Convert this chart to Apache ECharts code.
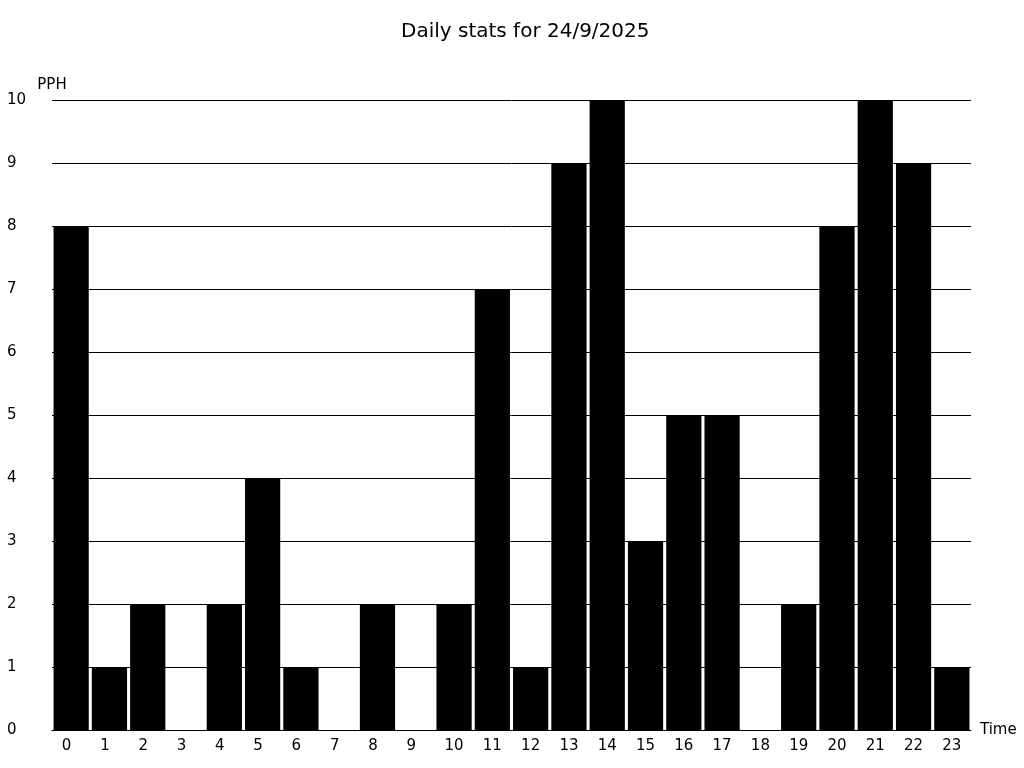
<!DOCTYPE html>
<html><head><meta charset="utf-8">
<script src="https://cdn.jsdelivr.net/npm/echarts@6/dist/echarts.min.js"></script>
<style>html,body{margin:0;padding:0;background:#fff}#c{width:1024px;height:768px}</style>
</head><body><div id="c"></div>
<script>
const hours = ['0','1','2','3','4','5','6','7','8','9','10','11','12','13','14','15','16','17','18','19','20','21','22','23'];
const pph = [8,1,2,0,2,4,1,0,2,0,2,7,1,9,10,3,5,5,0,2,8,10,9,1];
const yTicks = {min:0, max:10, interval:1};
const font = 'DejaVu Sans';
const chart = echarts.init(document.getElementById('c'), null, {renderer:'canvas'});
chart.setOption({
  backgroundColor:'#fff',
  animation:false,
  title:{text:'Daily stats for 24/9/2025', left:396, top:17,
    textStyle:{fontFamily:font, fontSize:20, fontWeight:'normal', color:'#000'}},
  grid:{left:52, right:53, top:100, bottom:38},
  xAxis:{type:'category', data:hours, name:'Time', nameGap:9,
    nameTextStyle:{fontFamily:font, fontSize:15, color:'#000', padding:[3,0,0,0]},
    axisLine:{lineStyle:{color:'#000', width:1}}, axisTick:{show:false},
    axisLabel:{fontFamily:font, fontSize:15, color:'#000', margin:9, interval:0,
      formatter: v => v.length === 1 ? '{a|' + v + '}' : v,
      rich:{a:{fontFamily:font, fontSize:15, color:'#000', padding:[0,9,0,0]}}}},
  yAxis:{type:'value', min:yTicks.min, max:yTicks.max, interval:yTicks.interval, name:'PPH', nameGap:7,
    nameTextStyle:{fontFamily:font, fontSize:15, color:'#000'},
    axisLine:{show:false}, axisTick:{show:false},
    axisLabel:{fontFamily:font, fontSize:15, color:'#000', align:'left', margin:45, padding:[5,0,0,0]},
    splitLine:{lineStyle:{color:'#000', width:1}}},
  series:[{type:'bar', data:pph, barWidth:'92%', itemStyle:{color:'#000'}}]
});
</script></body></html>
